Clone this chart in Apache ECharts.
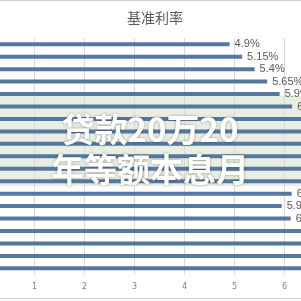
<!DOCTYPE html>
<html><head><meta charset="utf-8">
<script src="https://cdn.jsdelivr.net/npm/echarts@6/dist/echarts.min.js"></script>
<style>html,body{margin:0;padding:0;background:#fff;overflow:hidden;width:301px;height:301px;position:relative}#c{position:absolute;left:-21px;top:0;width:440px;height:301px}</style>
</head><body><div id="c"></div>
<script>
const titleText = '基准利率';
const categories = ['2015-10','2015-08','2015-06','2015-05','2015-03','2014-11','2012-07','2012-06','2011-07','2011-04','2011-02','2010-12','2010-10','2008-12','2008-11','2008-10b','2008-10a','2008-09','2007-12'];
const rates = [4.9,5.15,5.4,5.65,5.9,6.15,6.55,6.8,7.05,6.8,6.6,6.4,6.14,5.94,6.12,7.47,7.56,7.74,7.83];
const xTicks = [0,1,2,3,4,5,6,7,8];
const watermarkLines = ['贷款20万20','年等额本息月'];

const OX = 21; // page offset of the chart canvas
const chart = echarts.init(document.getElementById('c'), null, {renderer:'canvas'});
chart.setOption({
  backgroundColor:'#fff',
  animation:false,
  title:{text:titleText,left:150+OX,textAlign:'center',top:6,textStyle:{fontSize:14,fontWeight:'normal',color:'#595959',fontFamily:'Noto Sans CJK SC'}},
  grid:{left:0.3,top:38,width:(xTicks[xTicks.length-1]-xTicks[0])*50.67,height:236.6,containLabel:false},
  xAxis:{type:'value',min:xTicks[0],max:xTicks[xTicks.length-1],interval:1,
    axisLine:{show:false},axisTick:{show:false},
    axisLabel:{fontSize:8,color:'#808080',margin:8,fontFamily:'DejaVu Sans'},
    splitLine:{show:true,lineStyle:{color:'#d9d9d9',width:1}}},
  yAxis:{type:'category',data:categories,inverse:true,
    axisLine:{show:false},axisTick:{show:false},axisLabel:{show:false},splitLine:{show:false}},
  series:[{type:'bar',data:rates,barWidth:4,itemStyle:{color:'#5577a0'},z:2,
    label:{show:true,position:'right',distance:5,formatter:'{c}%',fontSize:11,color:'#595959',fontFamily:'Liberation Sans'}}],
  graphic:[
    {type:'rect',z:-10,silent:true,shape:{x:0,y:96,width:440,height:90},style:{fill:'#e9eee3'}},
    {type:'line',shape:{x1:0,y1:0.5,x2:440,y2:0.5},style:{stroke:'#d0d0d0',lineWidth:1}},
    {type:'line',shape:{x1:0,y1:298.5,x2:440,y2:298.5},style:{stroke:'#d0d0d0',lineWidth:1}},
    {type:'text',z:100,x:150+OX,y:113,style:{text:watermarkLines[0],align:'center',fill:'#ffffff',font:'bold 33px "Noto Sans CJK SC"',textShadowColor:'rgba(0,0,0,0.35)',textShadowBlur:3}},
    {type:'text',z:100,x:150+OX,y:153,style:{text:watermarkLines[1],align:'center',fill:'#ffffff',font:'bold 33px "Noto Sans CJK SC"',textShadowColor:'rgba(0,0,0,0.35)',textShadowBlur:3}}
  ]
});
</script></body></html>
